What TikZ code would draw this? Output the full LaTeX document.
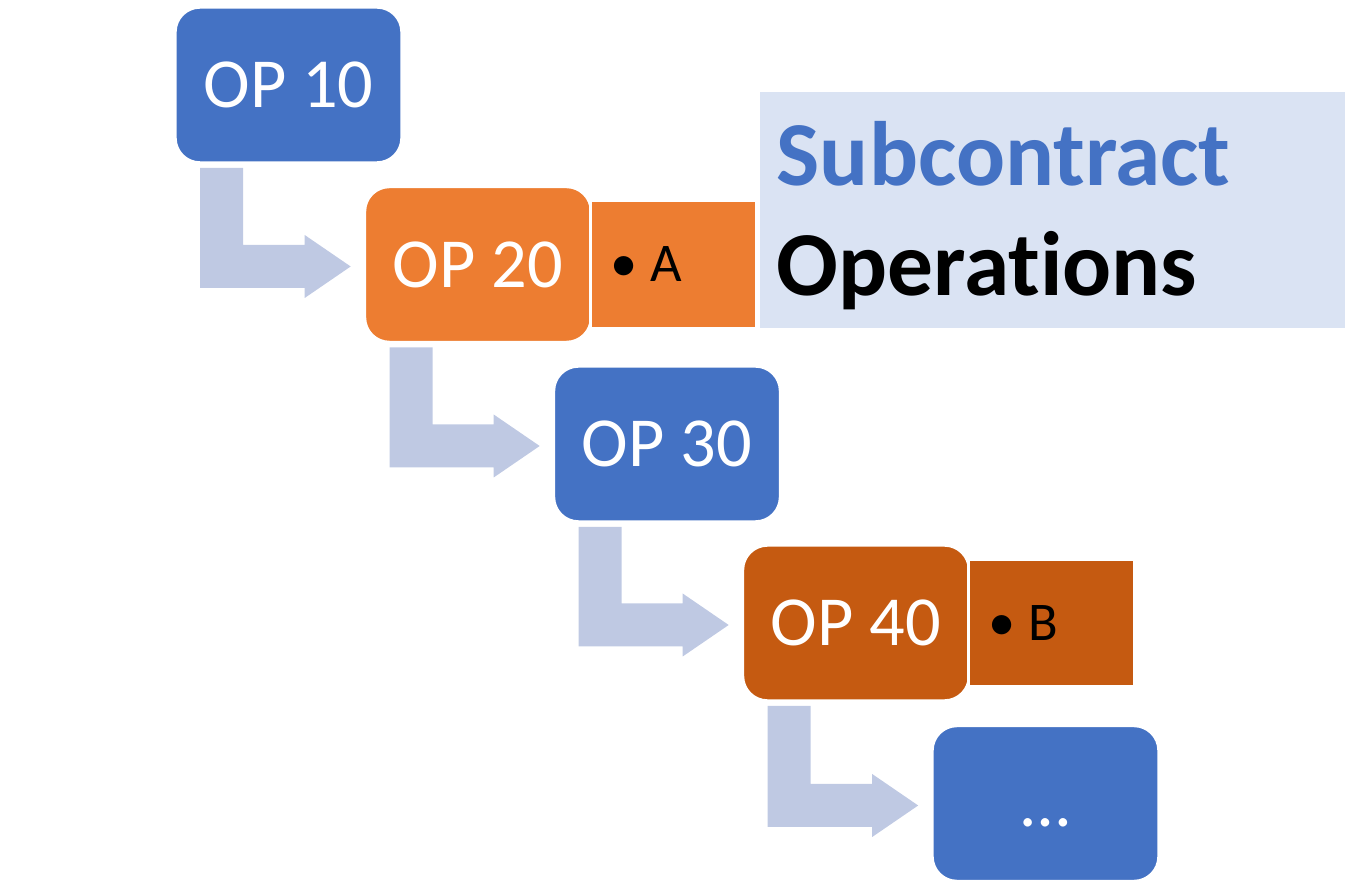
\documentclass[tikz,border=0pt]{standalone}
\usepackage{fontspec}
\setmainfont{Carlito}[Ligatures={NoCommon}]
\usetikzlibrary{
    positioning,
    calc
}
\definecolor{opblue}{HTML}{4472C4}
\definecolor{oporange}{HTML}{ED7D31}
\definecolor{opbrown}{HTML}{C55A11}
\definecolor{titlebg}{HTML}{DAE3F3}
\definecolor{flowblue}{HTML}{BFC9E3}
% bent step arrow from one operation box to the next
\newcommand{\steparrow}[2]{%
  \coordinate (sa) at ($(#1.south west)+(27,3)$);
  \coordinate (tip) at ($(#2.west)+(-12,2)$);
  \fill[flow] (sa) -- ++(43,0) |- ($(tip)+(-46,-21.5)$) -- ++(0,-10) -- (tip)
    -- ($(tip)+(-46,31.5)$) -- ++(0,-10) -| (sa) -- cycle;
}

\begin{document}
\begin{tikzpicture}[
    x=0.01cm, y=-0.01cm,
    opbox/.style={draw=white, line width=1pt, rounded corners=0.25cm,
                  minimum width=2.27cm, minimum height=1.56cm,
                  text height=12.9pt, text depth=0pt,
                  text=white, font=\fontsize{20}{24}\selectfont},
    subbox/.style={draw=white, line width=1pt, minimum width=1.66cm,
                   minimum height=1.28cm, text width=1.26cm, inner xsep=0.2cm,
                   align=left, font=\fontsize{15.5}{18}\selectfont},
    titletext/.style={inner sep=0pt, font=\fontsize{26}{30}\selectfont\bfseries},
    flow/.style={fill=flowblue}
  ]
    \useasboundingbox (0,0) rectangle (1345,889);
    \node[fill=titlebg, minimum width=5.85cm, minimum height=2.36cm] (title) at (1052.5,210) {};
    \node[titletext, text=opblue, anchor=base west] (sub) at (776,186) {Subcontract};
    \node[titletext, anchor=base west] (ops) at (776,296) {Operations};

    \node[opbox, fill=opblue](op10)   at (288.5,85)    {OP 10};
    \node[opbox, fill=oporange](op20) at (478,264.5)   {OP 20};
    \node[opbox, fill=opblue](op30)   at (667,444)     {OP 30};
    \node[opbox, fill=opbrown](op40)  at (856,623)     {OP 40};
    \node[opbox, fill=opblue](opnext) at (1045.5,803.5){\dots};
    \node[subbox, fill=oporange, right=-1.3pt of op20](suba) {•\hspace{0.13cm}A};
    \node[subbox, fill=opbrown, right=-1.3pt of op40](subb)  {•\hspace{0.13cm}B};

    \steparrow{op10}{op20}
    \steparrow{op20}{op30}
    \steparrow{op30}{op40}
    \steparrow{op40}{opnext}
\end{tikzpicture}
\end{document}
